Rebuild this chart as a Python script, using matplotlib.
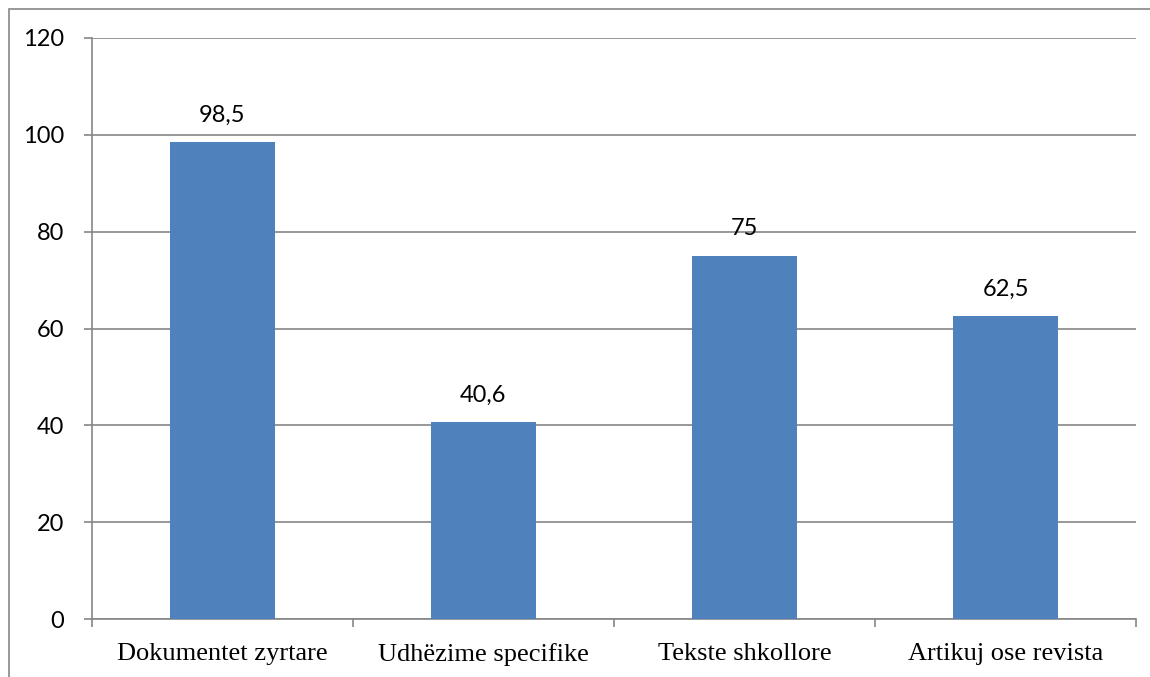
import numpy as np
import matplotlib
matplotlib.use('Agg')
import matplotlib.pyplot as plt
from matplotlib.patches import Rectangle

categories = ['Dokumentet zyrtare', 'Udhëzime specifike', 'Tekste shkollore', 'Artikuj ose revista']
values = [98.5, 40.6, 75, 62.5]
value_labels = ['98,5', '40,6', '75', '62,5']
y_ticks = [0, 20, 40, 60, 80, 100, 120]

bar_color = '#4F81BD'
line_color = '#868686'

fig = plt.figure(figsize=(11.5, 6.77), dpi=100)
ax = fig.add_axes([92/1150, 1 - 619/677, (1136 - 92)/1150, (619 - 38)/677])

# outer chart border (only top and left edges fall inside the image)
fig.patches.append(Rectangle((9/1150, -0.1), 1.2, 1 - 9/677 + 0.1,
                             transform=fig.transFigure, fill=False,
                             edgecolor=line_color, linewidth=1.2, clip_on=False))

x = np.arange(len(categories))
ax.bar(x, values, width=0.4, color=bar_color, zorder=3)

for xi, v, lab in zip(x, values, value_labels):
    ax.annotate(lab, (xi, v), xytext=(0, 19.5), textcoords='offset points',
                ha='center', va='center', fontsize=17, family='Lato', color='black')

ax.set_xlim(-0.5, len(categories) - 0.5)
ax.set_ylim(0, 120)
ax.set_yticks(y_ticks)
ax.set_yticklabels([str(t) for t in y_ticks], family='Lato', fontsize=17)
ax.yaxis.grid(True, color=line_color, linewidth=1.2, zorder=0)
ax.set_axisbelow(True)

ax.set_xticks(x)
ax.set_xticklabels(categories, family='Liberation Serif', fontsize=19)
ax.set_xticks(np.arange(-0.5, len(categories)), minor=True)
ax.tick_params(axis='x', which='major', length=0, pad=17)
ax.tick_params(axis='x', which='minor', length=6, width=1.2, color=line_color, direction='out')
ax.tick_params(axis='y', length=6, width=1.2, color=line_color, direction='out', pad=14)

for s in ['top', 'right']:
    ax.spines[s].set_visible(False)
for s in ['left', 'bottom']:
    ax.spines[s].set_color(line_color)
    ax.spines[s].set_linewidth(1.2)

fig.savefig('out.png', dpi=100)
